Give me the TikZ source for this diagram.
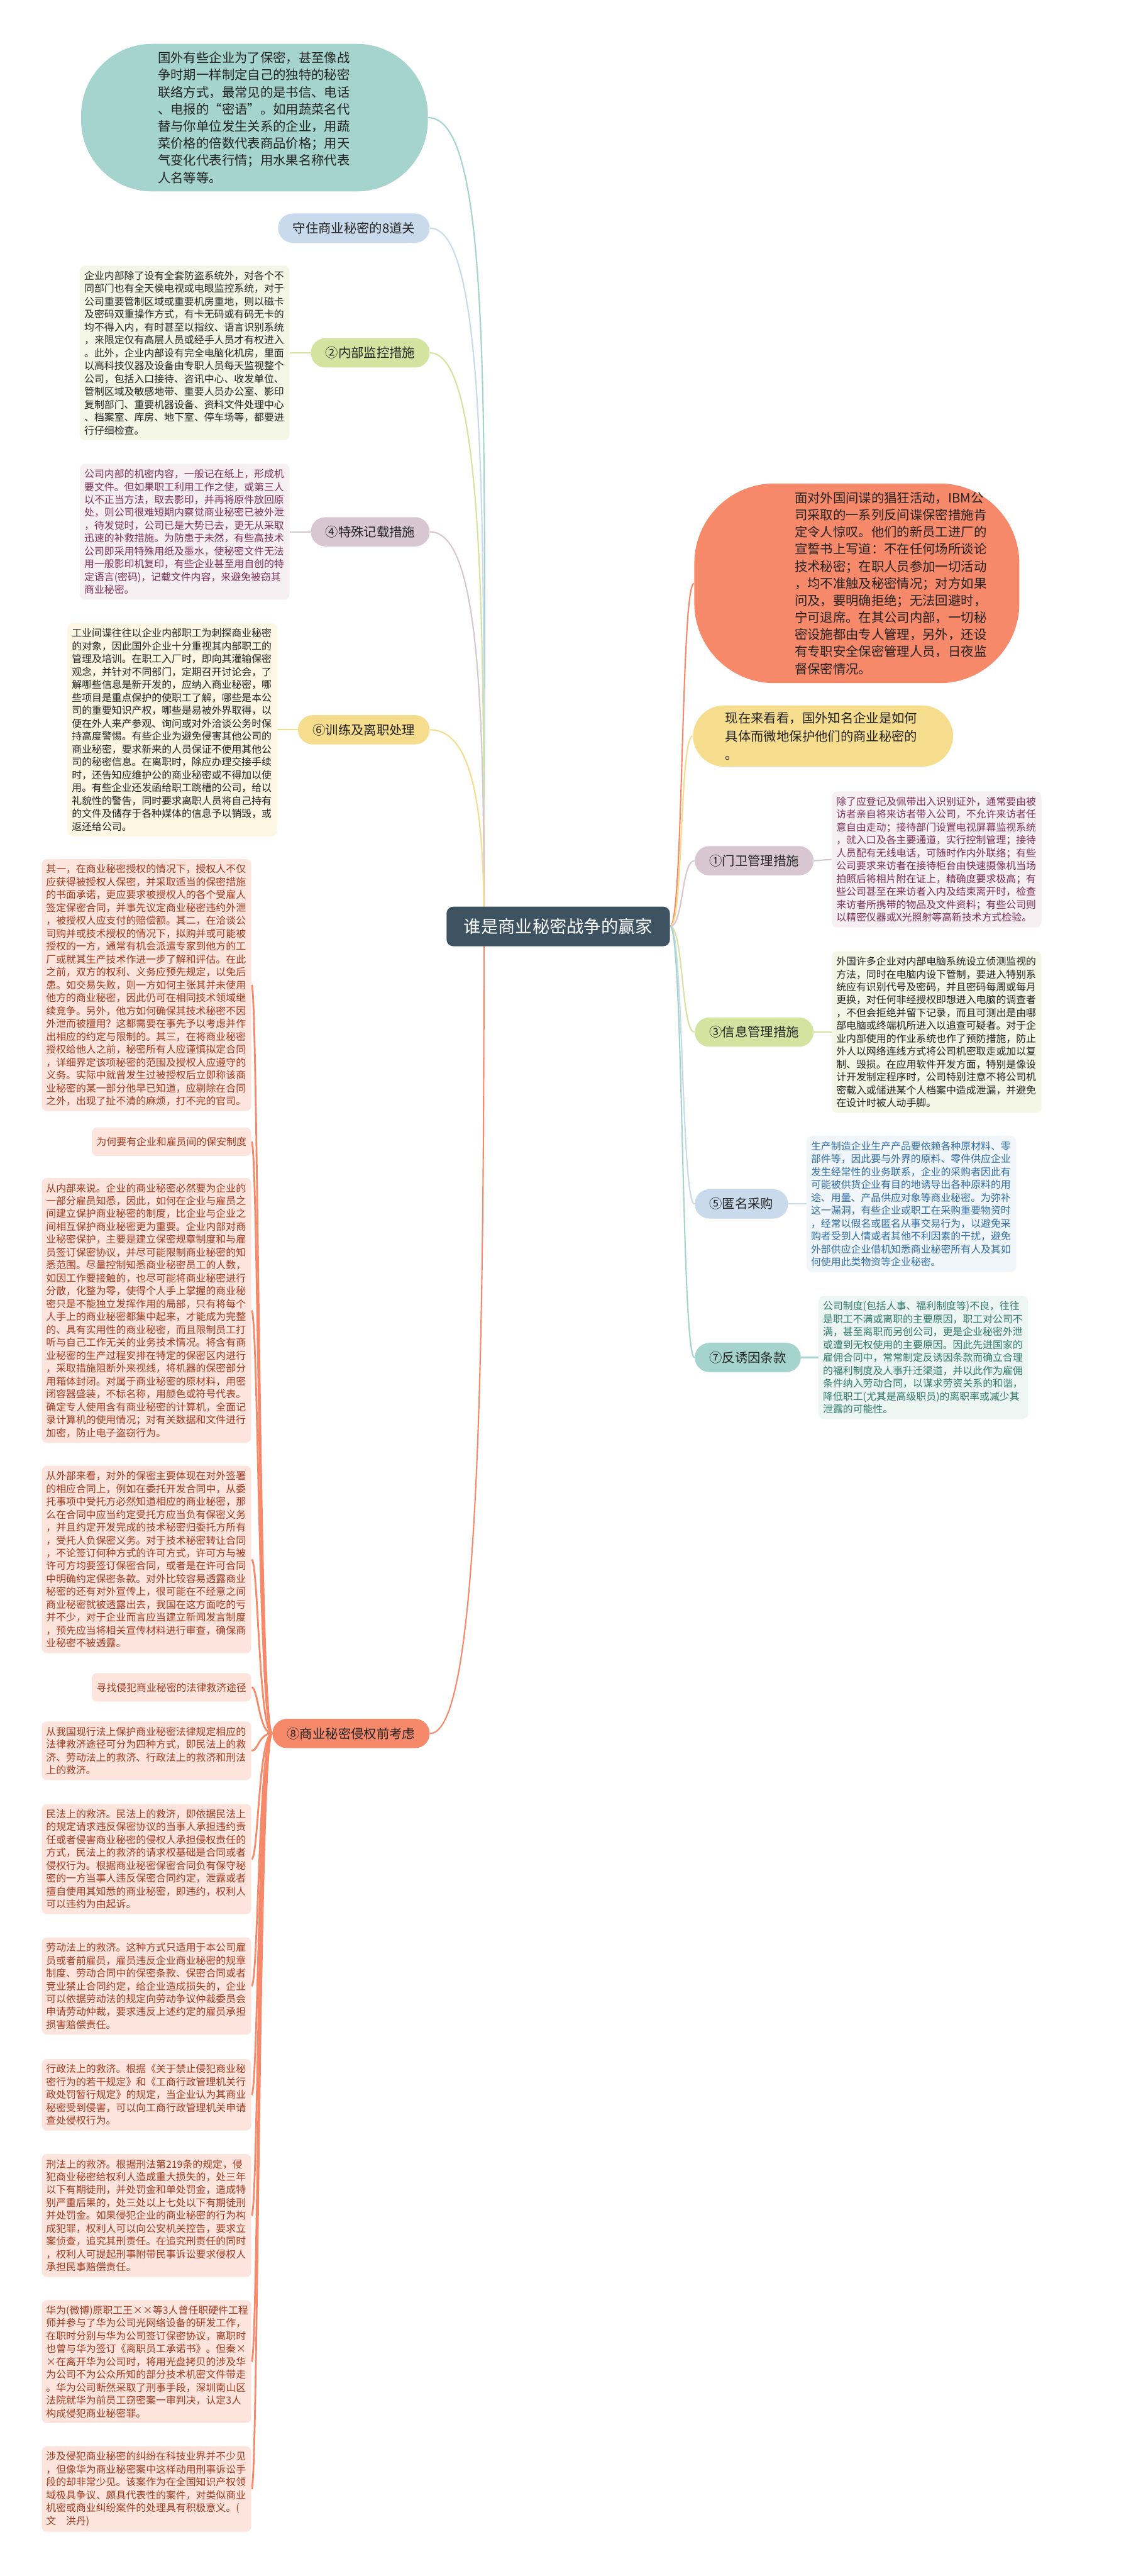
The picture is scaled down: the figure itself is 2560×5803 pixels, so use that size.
\documentclass[tikz,border=0pt]{standalone}
\usepackage{fontspec}
\setmainfont{Noto Sans CJK SC}
\usetikzlibrary{backgrounds}

\definecolor{cHub}{HTML}{3E5361}
\definecolor{cInk}{HTML}{222222}
\definecolor{cTeal}{HTML}{A5D4CF}
\definecolor{cBlue}{HTML}{C8DAEB}
\definecolor{cGreen}{HTML}{D6E3A0}
\definecolor{cMauve}{HTML}{D8C7D0}
\definecolor{cGold}{HTML}{F6DD8E}
\definecolor{cCoral}{HTML}{F7896B}
\definecolor{cGreenBg}{HTML}{F4F6E6}
\definecolor{cMauveBg}{HTML}{F6F0F3}
\definecolor{cGoldBg}{HTML}{FCF6E3}
\definecolor{cPinkBg}{HTML}{FDE5DD}
\definecolor{cBlueBg}{HTML}{F1F6FA}
\definecolor{cTealBg}{HTML}{EEF6F4}
\definecolor{cMauveInk}{HTML}{7D2F55}
\definecolor{cPinkInk}{HTML}{A23A1F}
\definecolor{cBlueInk}{HTML}{2F6DA8}
\definecolor{cTealInk}{HTML}{2E7A69}

\tikzset{
  hubnode/.style={
    fill=cHub, text=white, rounded corners=0.15cm,
    minimum width=5.03cm, minimum height=0.89cm,
    font=\fontsize{11pt}{13pt}\selectfont
  },
  pill/.style={
    fill=#1, text=cInk, rounded corners=0.33cm, minimum height=0.66cm,
    inner xsep=0.33cm, inner ysep=0pt, font=\fontsize{8.2pt}{10pt}\selectfont
  },
  bubble/.style={
    fill=#1, text=cInk, rounded corners=1.6cm, align=left,
    font=\fontsize{8.2pt}{10.95pt}\selectfont
  },
  detail/.style 2 args={
    fill=#1, text=#2, rounded corners=0.12cm, align=left,
    text width=4.52cm, inner xsep=0.1cm, inner ysep=0.12cm,
    font=\fontsize{6.4pt}{8.25pt}\selectfont
  },
  pinkbox/.style={detail={cPinkBg}{cPinkInk}, anchor=east},
  tag/.style={
    fill=cPinkBg, text=cPinkInk, rounded corners=0.12cm, anchor=east,
    minimum height=0.64cm, inner xsep=0.11cm,
    font=\fontsize{6.4pt}{8.25pt}\selectfont
  },
  link/.style={draw=#1, line width=0.03cm},
  lawlink/.style={draw=cCoral, line width=0.04cm}
}

\begin{document}
\begin{tikzpicture}[x=0.01cm, y=-0.01cm]
  \useasboundingbox (0,0) rectangle (2560,5803);

  \node[hubnode] (hub) at (1258,2087) {谁是商业秘密战争的赢家};
  \coordinate (hubL) at ([xshift=0.85cm]hub.west);

  % left side
  \node[bubble=cTeal, anchor=east, text width=4.35cm, inner xsep=1.73cm, inner ysep=0.18cm] (gist) at (965,265)
    {国外有些企业为了保密，甚至像战\\争时期一样制定自己的独特的秘密\\联络方式，最常见的是书信、电话\\、电报的“密语”。如用蔬菜名代\\替与你单位发生关系的企业，用蔬\\菜价格的倍数代表商品价格；用天\\气变化代表行情；用水果名称代表\\人名等等。};
  \node[pill=cBlue, anchor=east] (keep) at (969,514) {守住商业秘密的8道关};

  \node[pill=cGreen, anchor=east] (m2) at (969,795) {②内部监控措施};
  \node[detail={cGreenBg}{cInk}, anchor=east] (b2) at (653,795)
    {企业内部除了设有全套防盗系统外，对各个不\\同部门也有全天侯电视或电眼监控系统，对于\\公司重要管制区域或重要机房重地，则以磁卡\\及密码双重操作方式，有卡无码或有码无卡的\\均不得入内，有时甚至以指纹、语言识别系统\\，来限定仅有高层人员或经手人员才有权进入\\。此外，企业内部设有完全电脑化机房，里面\\以高科技仪器及设备由专职人员每天监视整个\\公司，包括入口接待、咨讯中心、收发单位、\\管制区域及敏感地带、重要人员办公室、影印\\复制部门、重要机器设备、资料文件处理中心\\、档案室、库房、地下室、停车场等，都要进\\行仔细检查。};

  \node[pill=cMauve, anchor=east] (m4) at (969,1198) {④特殊记载措施};
  \node[detail={cMauveBg}{cMauveInk}, anchor=east] (b4) at (653,1198)
    {公司内部的机密内容，一般记在纸上，形成机\\要文件。但如果职工利用工作之使，或第三人\\以不正当方法，取去影印，并再将原件放回原\\处，则公司很难短期内察觉商业秘密已被外泄\\，待发觉时，公司已是大势已去，更无从采取\\迅速的补救措施。为防患于未然，有些高技术\\公司即采用特殊用纸及墨水，使秘密文件无法\\用一般影印机复印，有些企业甚至用自创的特\\定语言(密码)，记载文件内容，来避免被窃其\\商业秘密。};

  \node[pill=cGold, anchor=east] (m6) at (969,1644) {⑥训练及离职处理};
  \node[detail={cGoldBg}{cInk}, anchor=east] (b6) at (625,1644)
    {工业间谍往往以企业内部职工为刺探商业秘密\\的对象，因此国外企业十分重视其内部职工的\\管理及培训。在职工入厂时，即向其灌输保密\\观念，并针对不同部门，定期召开讨论会，了\\解哪些信息是新开发的，应纳入商业秘密，哪\\些项目是重点保护的使职工了解，哪些是本公\\司的重要知识产权，哪些是易被外界取得，以\\便在外人来产参观、询问或对外洽谈公务时保\\持高度警惕。有些企业为避免侵害其他公司的\\商业秘密，要求新来的人员保证不使用其他公\\司的秘密信息。在离职时，除应办理交接手续\\时，还告知应维护公的商业秘密或不得加以使\\用。有些企业还发函给职工跳槽的公司，给以\\礼貌性的警告，同时要求离职人员将自己持有\\的文件及储存于各种媒体的信息予以销毁，或\\返还给公司。};

  \node[pill=cCoral, anchor=east] (m8) at (969,3905) {⑧商业秘密侵权前考虑};
  \node[pinkbox] (grant) at (567,2219)
    {其一，在商业秘密授权的情况下，授权人不仅\\应获得被授权人保密，并采取适当的保密措施\\的书面承诺，更应要求被授权人的各个受雇人\\签定保密合同，并事先议定商业秘密违约外泄\\，被授权人应支付的赔偿额。其二，在洽谈公\\司购并或技术授权的情况下，拟购并或可能被\\授权的一方，通常有机会派遣专家到他方的工\\厂或就其生产技术作进一步了解和评估。在此\\之前，双方的权利、义务应预先规定，以免后\\患。如交易失败，则一方如何主张其并未使用\\他方的商业秘密，因此仍可在相同技术领域继\\续竞争。另外，他方如何确保其技术秘密不因\\外泄而被擅用？这都需要在事先予以考虑并作\\出相应的约定与限制的。其三，在将商业秘密\\授权给他人之前，秘密所有人应谨慎拟定合同\\，详细界定该项秘密的范围及授权人应遵守的\\义务。实际中就曾发生过被授权后立即称该商\\业秘密的某一部分他早已知道，应剔除在合同\\之外，出现了扯不清的麻烦，打不完的官司。};
  \node[tag] (why) at (567,2572) {为何要有企业和雇员间的保安制度};
  \node[pinkbox] (inner) at (567,2952)
    {从内部来说。企业的商业秘密必然要为企业的\\一部分雇员知悉，因此，如何在企业与雇员之\\间建立保护商业秘密的制度，比企业与企业之\\间相互保护商业秘密更为重要。企业内部对商\\业秘密保护，主要是建立保密规章制度和与雇\\员签订保密协议，并尽可能限制商业秘密的知\\悉范围。尽量控制知悉商业秘密员工的人数，\\如因工作要接触的，也尽可能将商业秘密进行\\分散，化整为零，使得个人手上掌握的商业秘\\密只是不能独立发挥作用的局部，只有将每个\\人手上的商业秘密都集中起来，才能成为完整\\的、具有实用性的商业秘密，而且限制员工打\\听与自己工作无关的业务技术情况。将含有商\\业秘密的生产过程安排在特定的保密区内进行\\，采取措施阻断外来视线，将机器的保密部分\\用箱体封闭。对属于商业秘密的原材料，用密\\闭容器盛装，不标名称，用颜色或符号代表。\\确定专人使用含有商业秘密的计算机，全面记\\录计算机的使用情况；对有关数据和文件进行\\加密，防止电子盗窃行为。};
  \node[pinkbox] (outer) at (567,3513)
    {从外部来看，对外的保密主要体现在对外签署\\的相应合同上，例如在委托开发合同中，从委\\托事项中受托方必然知道相应的商业秘密，那\\么在合同中应当约定受托方应当负有保密义务\\，并且约定开发完成的技术秘密归委托方所有\\，受托人负保密义务。对于技术秘密转让合同\\，不论签订何种方式的许可方式，许可方与被\\许可方均要签订保密合同，或者是在许可合同\\中明确约定保密条款。对外比较容易透露商业\\秘密的还有对外宣传上，很可能在不经意之间\\商业秘密就被透露出去，我国在这方面吃的亏\\并不少，对于企业而言应当建立新闻发言制度\\，预先应当将相关宣传材料进行审查，确保商\\业秘密不被透露。};
  \node[tag] (seek) at (567,3801) {寻找侵犯商业秘密的法律救济途径};
  \node[pinkbox] (routes) at (567,3944)
    {从我国现行法上保护商业秘密法律规定相应的\\法律救济途径可分为四种方式，即民法上的救\\济、劳动法上的救济、行政法上的救济和刑法\\上的救济。};
  \node[pinkbox] (civil) at (567,4188)
    {民法上的救济。民法上的救济，即依据民法上\\的规定请求违反保密协议的当事人承担违约责\\任或者侵害商业秘密的侵权人承担侵权责任的\\方式，民法上的救济的请求权基础是合同或者\\侵权行为。根据商业秘密保密合同负有保守秘\\密的一方当事人违反保密合同约定，泄露或者\\擅自使用其知悉的商业秘密，即违约，权利人\\可以违约为由起诉。};
  \node[pinkbox] (labour) at (567,4474)
    {劳动法上的救济。这种方式只适用于本公司雇\\员或者前雇员，雇员违反企业商业秘密的规章\\制度、劳动合同中的保密条款、保密合同或者\\竞业禁止合同约定，给企业造成损失的，企业\\可以依据劳动法的规定向劳动争议仲裁委员会\\申请劳动仲裁，要求违反上述约定的雇员承担\\损害赔偿责任。};
  \node[pinkbox] (admin) at (567,4719)
    {行政法上的救济。根据《关于禁止侵犯商业秘\\密行为的若干规定》和《工商行政管理机关行\\政处罚暂行规定》的规定，当企业认为其商业\\秘密受到侵害，可以向工商行政管理机关申请\\查处侵权行为。};
  \node[pinkbox] (penal) at (567,4991)
    {刑法上的救济。根据刑法第219条的规定，侵\\犯商业秘密给权利人造成重大损失的，处三年\\以下有期徒刑，并处罚金和单处罚金，造成特\\别严重后果的，处三处以上七处以下有期徒刑\\并处罚金。如果侵犯企业的商业秘密的行为构\\成犯罪，权利人可以向公安机关控告，要求立\\案侦查，追究其刑责任。在追究刑责任的同时\\，权利人可提起刑事附带民事诉讼要求侵权人\\承担民事赔偿责任。};
  \node[pinkbox] (huawei) at (567,5320)
    {华为(微博)原职工王××等3人曾任职硬件工程\\师并参与了华为公司光网络设备的研发工作，\\在职时分别与华为公司签订保密协议，离职时\\也曾与华为签订《离职员工承诺书》。但秦×\\×在离开华为公司时，将用光盘拷贝的涉及华\\为公司不为公众所知的部分技术机密文件带走\\。华为公司断然采取了刑事手段，深圳南山区\\法院就华为前员工窃密案一审判决，认定3人\\构成侵犯商业秘密罪。};
  \node[pinkbox] (remark) at (567,5607)
    {涉及侵犯商业秘密的纠纷在科技业界并不少见\\，但像华为商业秘密案中这样动用刑事诉讼手\\段的却非常少见。该案作为在全国知识产权领\\域极具争议、颇具代表性的案件，对类似商业\\机密或商业纠纷案件的处理具有积极意义。(\\文\quad 洪丹)};

  % right side
  \node[bubble=cCoral, anchor=west, rounded corners=1.8cm, inner xsep=0.66cm, inner ysep=0.19cm] (ibm) at (1564,1314)
    {\hspace*{1.6cm}\parbox[c]{4.4cm}{\raggedright 面对外国间谍的猖狂活动，IBM公\\司采取的一系列反间谍保密措施肯\\定令人惊叹。他们的新员工进厂的\\宣誓书上写道：不在任何场所谈论\\技术秘密；在职人员参加一切活动\\，均不准触及秘密情况；对方如果\\问及，要明确拒绝；无法回避时，\\宁可退席。在其公司内部，一切秘\\密设施都由专人管理，另外，还设\\有专职安全保密管理人员，日夜监\\督保密情况。}};
  \node[bubble=cGold, anchor=west, text width=4.4cm, rounded corners=0.7cm, inner xsep=0.73cm, inner ysep=0.15cm,
        font=\fontsize{8.2pt}{11.6pt}\selectfont] (now) at (1561,1658)
    {现在来看看，国外知名企业是如何\\具体而微地保护他们的商业秘密的\\。};

  \node[pill=cMauve, anchor=west] (m1) at (1565,1939) {①门卫管理措施};
  \node[detail={cMauveBg}{cMauveInk}, anchor=west] (b1) at (1874,1936)
    {除了应登记及佩带出入识别证外，通常要由被\\访者亲自将来访者带入公司，不允许来访者任\\意自由走动；接待部门设置电视屏幕监视系统\\，就入口及各主要通道，实行控制管理；接待\\人员配有无线电话，可随时作内外联络；有些\\公司要求来访者在接待柜台由快速摄像机当场\\拍照后将相片附在证上，精确度要求极高；有\\些公司甚至在来访者入内及结束离开时，检查\\来访者所携带的物品及文件资料；有些公司则\\以精密仪器或X光照射等高新技术方式检验。};

  \node[pill=cGreen, anchor=west] (m3) at (1565,2325) {③信息管理措施};
  \node[detail={cGreenBg}{cInk}, anchor=west] (b3) at (1874,2325)
    {外国许多企业对内部电脑系统设立侦测监视的\\方法，同时在电脑内设下管制，要进入特别系\\统应有识别代号及密码，并且密码每周或每月\\更换，对任何非经授权即想进入电脑的调查者\\，不但会拒绝并留下记录，而且可测出是由哪\\部电脑或终端机所进入以追查可疑者。对于企\\业内部使用的作业系统也作了预防措施，防止\\外人以网络连线方式将公司机密取走或加以复\\制、毁损。在应用软件开发方面，特别是像设\\计开发制定程序时，公司特别注意不将公司机\\密载入或储进某个人档案中造成泄漏，并避免\\在设计时被人动手脚。};

  \node[pill=cBlue, anchor=west] (m5) at (1565,2712) {⑤匿名采购};
  \node[detail={cBlueBg}{cBlueInk}, anchor=west] (b5) at (1817,2712)
    {生产制造企业生产产品要依赖各种原材料、零\\部件等，因此要与外界的原料、零件供应企业\\发生经常性的业务联系，企业的采购者因此有\\可能被供货企业有目的地诱导出各种原料的用\\途、用量、产品供应对象等商业秘密。为弥补\\这一漏洞，有些企业或职工在采购重要物资时\\，经常以假名或匿名从事交易行为，以避免采\\购者受到人情或者其他不利因素的干扰，避免\\外部供应企业借机知悉商业秘密所有人及其如\\何使用此类物资等企业秘密。};

  \node[pill=cTeal, anchor=west] (m7) at (1565,3058) {⑦反诱因条款};
  \node[detail={cTealBg}{cTealInk}, anchor=west] (b7) at (1844,3058)
    {公司制度(包括人事、福利制度等)不良，往往\\是职工不满或离职的主要原因，职工对公司不\\满，甚至离职而另创公司，更是企业秘密外泄\\或遭到无权使用的主要原因。因此先进国家的\\雇佣合同中，常常制定反诱因条款而确立合理\\的福利制度及人事升迁渠道，并以此作为雇佣\\条件纳入劳动合同，以谋求劳资关系的和谐，\\降低职工(尤其是高级职员)的离职率或减少其\\泄露的可能性。};

  \begin{scope}[on background layer]
    \fill[white] (0,0) rectangle (2560,5803);
    % hub to first level
    \draw[link=cTeal] (hubL) .. controls +(0,-1100) and +(150,0) .. (gist.east);
    \draw[link=cBlue] (hubL) .. controls +(0,-900) and +(130,0) .. (keep.east);
    \draw[link=cGreen] (hubL) .. controls +(0,-700) and +(120,0) .. (m2.east);
    \draw[link=cMauve] (hubL) .. controls +(0,-500) and +(110,0) .. (m4.east);
    \draw[link=cGold] (hubL) .. controls +(0,-250) and +(100,0) .. (m6.east);
    \draw[link=cCoral] (hubL) .. controls +(0,1000) and +(110,0) .. (m8.east);
    \draw[link=cCoral] (hub.east) .. controls +(30,0) and +(-30,0) .. (ibm.west);
    \draw[link=cGold] (hub.east) .. controls +(30,0) and +(-30,0) .. (now.west);
    \draw[link=cMauve] (hub.east) .. controls +(30,0) and +(-30,0) .. (m1.west);
    \draw[link=cGreen] (hub.east) .. controls +(30,0) and +(-30,0) .. (m3.west);
    \draw[link=cBlue] (hub.east) .. controls +(30,0) and +(-30,0) .. (m5.west);
    \draw[link=cTeal] (hub.east) .. controls +(30,0) and +(-30,0) .. (m7.west);
    % first level to details
    \draw[link=cGreen] (m2.west) -- (b2.east);
    \draw[link=cMauve] (m4.west) -- (b4.east);
    \draw[link=cGold] (m6.west) -- (b6.east);
    \draw[link=cMauve] (m1.east) -- (b1.west);
    \draw[link=cGreen] (m3.east) -- (b3.west);
    \draw[link=cBlue] (m5.east) -- (b5.west);
    \draw[link=cTeal] (m7.east) -- (b7.west);
    \foreach \b in {grant,why,inner,outer,seek,routes,civil,labour,admin,penal,huawei,remark}
      \draw[lawlink] (m8.west) .. controls +(-30,0) and +(15,0) .. (\b.east);
  \end{scope}
\end{tikzpicture}
\end{document}
